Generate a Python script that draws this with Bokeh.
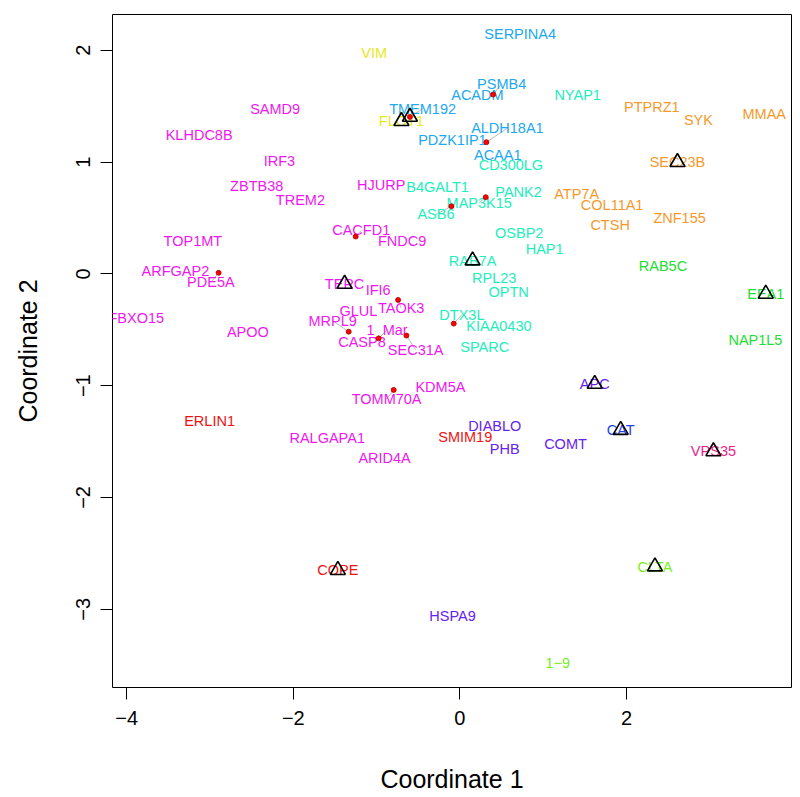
from bokeh.plotting import figure
from bokeh.models import ColumnDataSource, Range1d, FixedTicker
from bokeh.core.properties import value
from bokeh.embed import file_html
from bokeh.resources import INLINE

# ---- data ----
genes = ["VIM", "SAMD9", "KLHDC8B", "IRF3", "ZBTB38", "TREM2", "HJURP", "TMEM192", "FLOT1",
         "SERPINA4", "PSMB4", "ACADM", "ALDH18A1", "PDZK1IP1", "ACAA1", "CD300LG", "NYAP1",
         "B4GALT1", "PANK2", "MAP3K15", "ASB6", "CACFD1", "FNDC9", "RAB7A", "OSBP2", "HAP1",
         "RPL23", "OPTN", "DTX3L", "KIAA0430", "SPARC",
         "PTPRZ1", "SYK", "MMAA", "SEC23B", "ATP7A", "COL11A1", "ZNF155", "CTSH",
         "RAB5C", "EEA1", "NAP1L5", "CLTA", "1\u22129",
         "APC", "CAT", "DIABLO", "SMIM19", "PHB", "COMT", "VPS35", "HSPA9", "COPE", "ERLIN1",
         "RALGAPA1", "ARID4A", "TOMM70A", "KDM5A",
         "TOP1MT", "ARFGAP2", "PDE5A", "FBXO15", "APOO", "TERC", "IFI6", "TAOK3", "GLUL",
         "MRPL9", "CASP8", "1_Mar", "SEC31A"]
label_x = [-1.029, -2.218, -3.130, -2.167, -2.439, -1.915, -0.945, -0.448, -0.702,
           0.723, 0.501, 0.210, 0.570, -0.090, 0.454, 0.612, 1.413,
           -0.268, 0.704, 0.232, -0.288, -1.185, -0.694, 0.152, 0.712, 1.017,
           0.412, 0.584, 0.024, 0.468, 0.297,
           2.303, 2.863, 3.653, 2.611, 1.401, 1.827, 2.637, 1.803,
           2.437, 3.671, 3.547, 2.341, 1.176,
           1.618, 1.930, 0.418, 0.064, 0.538, 1.267, 3.043, -0.088, -1.465, -3.005,
           -1.593, -0.904, -0.880, -0.234,
           -3.205, -3.415, -2.989, -3.885, -2.545, -1.384, -0.981, -0.705, -1.218,
           -1.528, -1.176, -0.874, -0.531]
label_y = [1.978, 1.471, 1.238, 1.008, 0.784, 0.662, 0.799, 1.477, 1.366,
           2.142, 1.701, 1.602, 1.303, 1.200, 1.065, 0.970, 1.596,
           0.775, 0.731, 0.636, 0.531, 0.388, 0.292, 0.119, 0.364, 0.218,
           -0.036, -0.158, -0.364, -0.463, -0.657,
           1.492, 1.372, 1.426, 0.999, 0.710, 0.618, 0.498, 0.439,
           0.074, -0.179, -0.591, -2.618, -3.477,
           -0.985, -1.397, -1.358, -1.457, -1.567, -1.522, -1.588, -3.059, -2.650, -1.313,
           -1.472, -1.647, -1.119, -1.015,
           0.292, 0.023, -0.075, -0.394, -0.517, -0.090, -0.143, -0.304, -0.329,
           -0.418, -0.612, -0.501, -0.680]

# colour group of each gene
magenta = ["SAMD9", "KLHDC8B", "IRF3", "ZBTB38", "TREM2", "HJURP", "CACFD1", "FNDC9",
           "TOP1MT", "ARFGAP2", "PDE5A", "FBXO15", "APOO", "TERC", "IFI6", "TAOK3", "GLUL",
           "MRPL9", "CASP8", "1_Mar", "SEC31A", "KDM5A", "TOMM70A", "RALGAPA1", "ARID4A"]
skyblue = ["SERPINA4", "PSMB4", "ACADM", "TMEM192", "PDZK1IP1", "ALDH18A1", "ACAA1"]
turquoise = ["NYAP1", "CD300LG", "B4GALT1", "PANK2", "MAP3K15", "ASB6", "OSBP2", "HAP1",
             "RAB7A", "RPL23", "OPTN", "DTX3L", "KIAA0430", "SPARC"]
orange = ["PTPRZ1", "SYK", "MMAA", "SEC23B", "ATP7A", "COL11A1", "CTSH", "ZNF155"]
green = ["RAB5C", "EEA1", "NAP1L5"]
lime = ["CLTA", "1\u22129"]
yellow = ["VIM", "FLOT1"]
red = ["ERLIN1", "COPE", "SMIM19"]
violet = ["APC", "DIABLO", "PHB", "COMT", "HSPA9"]
blue = ["CAT"]
pink = ["VPS35"]

# genes whose labels were moved away from their points (original point positions)
moved_genes = ["PSMB4", "ALDH18A1", "MAP3K15", "ASB6", "CACFD1", "PDE5A", "TAOK3", "MRPL9",
               "1_Mar", "SEC31A", "DTX3L", "TOMM70A", "TMEM192"]
point_x = [0.399, 0.318, 0.310, -0.102, -1.251, -2.896, -0.742, -1.335, -0.975, -0.642,
           -0.074, -0.795, -0.600]
point_y = [1.604, 1.178, 0.686, 0.605, 0.334, 0.009, -0.233, -0.517, -0.577, -0.552,
           -0.445, -1.038, 1.404]

# genes marked with a triangle
marked_genes = ["FLOT1", "TMEM192", "TERC", "RAB7A", "SEC23B", "EEA1", "APC", "CAT",
                "VPS35", "CLTA", "COPE"]

x_ticks = [-4, -2, 0, 2]
x_tick_labels = ["\u22124", "\u22122", "0", "2"]
y_ticks = [-3, -2, -1, 0, 1, 2]
y_tick_labels = ["\u22123", "\u22122", "\u22121", "0", "1", "2"]

palette = {
    "magenta": "#EE18EE", "skyblue": "#22A8EE", "turquoise": "#22EEBB",
    "orange": "#F5992A", "green": "#22DD33", "lime": "#77EE22", "yellow": "#E8E822",
    "red": "#EE1111", "violet": "#6622EE", "blue": "#2244EE", "pink": "#EE2288",
}

# ---- build ----
assign = {}
for name, members in [("magenta", magenta), ("skyblue", skyblue), ("turquoise", turquoise),
                      ("orange", orange), ("green", green), ("lime", lime), ("yellow", yellow),
                      ("red", red), ("violet", violet), ("blue", blue), ("pink", pink)]:
    for g in members:
        assign[g] = name
colors = [palette[assign[g]] for g in genes]

lab = dict(zip(genes, zip(label_x, label_y)))
pt = dict(zip(moved_genes, zip(point_x, point_y)))

p = figure(width=792, height=797, output_backend="svg", toolbar_location=None,
           x_range=Range1d(-4.17, 3.98), y_range=Range1d(-3.70, 2.32),
           min_border_left=112, min_border_right=1, min_border_top=14, min_border_bottom=110)
p.grid.visible = False
p.outline_line_color = "black"
p.outline_line_width = 1
p.background_fill_color = "white"
p.border_fill_color = "white"

seg = ColumnDataSource(dict(x0=point_x, y0=point_y,
                            x1=[lab[g][0] for g in moved_genes],
                            y1=[lab[g][1] for g in moved_genes]))
p.segment("x0", "y0", "x1", "y1", source=seg, line_color="#BBBBBB", line_width=1)

src = ColumnDataSource(dict(x=label_x, y=label_y, text=genes, color=colors))
p.text("x", "y", text="text", source=src, text_color="color", text_align="center",
       text_baseline="middle", text_font=value("Liberation Sans"), text_font_size="14.5px")

p.scatter(point_x, point_y, size=5, fill_color="#FF0000", line_color="#AA0000", line_width=0.8)

tri_x = [pt[g][0] if g in pt else lab[g][0] for g in marked_genes]
tri_y = [pt[g][1] if g in pt else lab[g][1] for g in marked_genes]
p.scatter(tri_x, tri_y, marker="triangle", size=15, fill_color=None,
          line_color="black", line_width=1.6)

for ax, ticks, labels in [(p.xaxis[0], x_ticks, x_tick_labels), (p.yaxis[0], y_ticks, y_tick_labels)]:
    ax.ticker = FixedTicker(ticks=ticks)
    ax.major_label_overrides = {t: l for t, l in zip(ticks, labels)}
    ax.minor_tick_line_color = None
    ax.axis_line_color = None
    ax.major_tick_line_color = "black"
    ax.major_tick_in = 0
    ax.major_tick_out = 12
    ax.major_label_text_font = "Liberation Sans"
    ax.major_label_text_font_size = "20px"
    ax.major_label_text_color = "black"
    ax.axis_label_text_font = "Liberation Sans"
    ax.axis_label_text_font_size = "25px"
    ax.axis_label_text_font_style = "normal"
    ax.axis_label_text_color = "black"

p.xaxis.axis_label = "Coordinate 1"
p.yaxis.axis_label = "Coordinate 2"
p.xaxis.major_label_standoff = 11
p.xaxis.axis_label_standoff = 37
p.yaxis.major_label_orientation = "vertical"
p.yaxis.major_label_standoff = 10
p.yaxis.axis_label_standoff = 32

open("out.html", "w").write(file_html(p, INLINE))
